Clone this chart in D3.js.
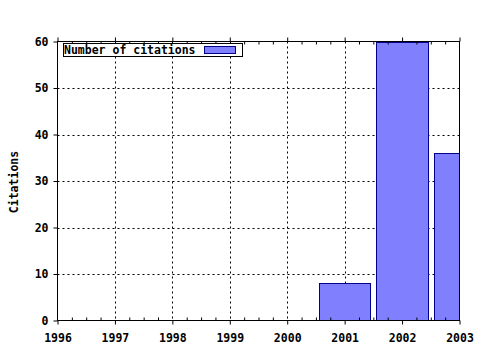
<!DOCTYPE html>
<html><head><meta charset="utf-8">
<script src="https://cdn.jsdelivr.net/npm/d3@7"></script>
<style>body{margin:0;background:#fff}svg{display:block}text{font-family:"DejaVu Sans Mono",monospace;font-weight:bold;font-size:11.5px;fill:#000}</style>
</head><body>
<script>
const years = [2001, 2002, 2003];
const citations = [8, 60, 36];
const xTicks = [1996, 1997, 1998, 1999, 2000, 2001, 2002, 2003];
const yTicks = [0, 10, 20, 30, 40, 50, 60];
const seriesName = "Number of citations";
const yLabel = "Citations";

const W = 480, H = 350;
const L = 57.5, R = 459.5, T = 41.5, B = 320.5;
const svg = d3.select("body").append("svg").attr("width", W).attr("height", H);
const x = d3.scaleLinear().domain([1996, 2003]).range([L, R]);
const y = d3.scaleLinear().domain([0, 60]).range([B, T]);

svg.append("clipPath").attr("id","clip").append("rect").attr("x",L).attr("y",T).attr("width",R-L).attr("height",B-T);

// grid
const g = svg.append("g").attr("stroke","#000").attr("stroke-dasharray","2,3").attr("stroke-width",1);
xTicks.slice(1,-1).forEach(t=>g.append("line").attr("x1",Math.round(x(t))+0.5).attr("x2",Math.round(x(t))+0.5).attr("y1",T).attr("y2",B));
yTicks.slice(1,-1).forEach(t=>g.append("line").attr("x1",L).attr("x2",R).attr("y1",Math.round(y(t))+0.5).attr("y2",Math.round(y(t))+0.5));

// bars
svg.append("g").attr("clip-path","url(#clip)").selectAll("rect").data(years).join("rect")
  .attr("x",(d)=>Math.round(x(d-0.45))+0.5)
  .attr("width",(d)=>Math.round(x(d+0.45))-Math.round(x(d-0.45)))
  .attr("y",(d,i)=>Math.round(y(citations[i]))+0.5)
  .attr("height",(d,i)=>Math.round(y(0))-Math.round(y(citations[i])))
  .attr("fill","#8080ff").attr("stroke","#00008b").attr("stroke-width",1);

// frame
svg.append("rect").attr("x",L).attr("y",T).attr("width",R-L).attr("height",B-T).attr("fill","none").attr("stroke","#000");

// axes
const xb = d3.axisBottom(x).tickValues(xTicks).tickFormat(d3.format("d")).tickSize(4).tickPadding(9);
const xt = d3.axisTop(x).tickValues(xTicks).tickFormat("").tickSize(4);
const yl = d3.axisLeft(y).tickValues(yTicks).tickSize(4).tickPadding(5);
const minor = d3.range(1996, 2003.01, 0.25).filter(v=>Math.abs(v-Math.round(v))>0.01);
const xbm = d3.axisBottom(x).tickValues(minor).tickFormat("").tickSizeInner(-3).tickSizeOuter(0);
const xtm = d3.axisTop(x).tickValues(minor).tickFormat("").tickSizeInner(-3).tickSizeOuter(0);
[ [xb,B],[xt,T],[xbm,B],[xtm,T] ].forEach(([a,yy])=>{
  const s = svg.append("g").attr("transform",`translate(0,${yy})`).call(a);
  s.select(".domain").remove();
  s.selectAll("text").attr("font-size",null).attr("font-family",null);
});
const ys = svg.append("g").attr("transform",`translate(${L},0)`).call(yl);
ys.select(".domain").remove();
ys.selectAll("text").attr("font-size",null).attr("font-family",null);
svg.selectAll(".tick line").attr("stroke","#000");

// y label
svg.append("text").attr("transform","translate(18,182) rotate(-90)").attr("text-anchor","middle").text(yLabel);

// legend
svg.append("rect").attr("x",63.5).attr("y",43.5).attr("width",179).attr("height",13).attr("fill","#fff").attr("stroke","#000");
svg.append("text").attr("x",64).attr("y",54).text(seriesName);
svg.append("rect").attr("x",204.5).attr("y",46.5).attr("width",31).attr("height",7).attr("fill","#8080ff").attr("stroke","#00008b");
</script>
</body></html>
